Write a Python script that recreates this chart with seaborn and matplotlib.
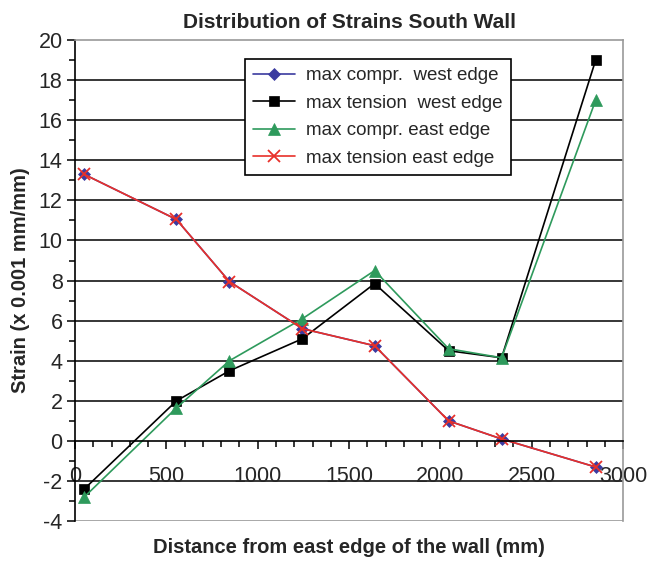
import numpy as np
import pandas as pd
import matplotlib
matplotlib.use('Agg')
import matplotlib.pyplot as plt
import seaborn as sns
from matplotlib.ticker import MultipleLocator

# positions along the wall (mm)
distance = [50, 555, 845, 1245, 1640, 2045, 2335, 2850]

# strains (x 0.001 mm/mm)
comprWest = [13.3, 11.05, 7.95, 5.6, 4.75, 1.0, 0.1, -1.3]
tensionWest = [-2.4, 2.0, 3.5, 5.1, 7.85, 4.5, 4.15, 19.0]
comprEast = [-2.8, 1.65, 4.0, 6.1, 8.5, 4.6, 4.15, 17.0]
tensionEast = [13.3, 11.05, 7.95, 5.6, 4.75, 1.0, 0.1, -1.3]

seriesNames = ['max compr.  west edge', 'max tension  west edge',
               'max compr. east edge', 'max tension east edge']

sns.set_style('white')
plt.rcParams['font.family'] = ['Liberation Sans', 'DejaVu Sans']
plt.rcParams['axes.unicode_minus'] = False

fig = plt.figure(figsize=(6.47, 5.64), dpi=100)
ax = fig.add_axes([0.116, 0.076, 0.847, 0.853])

styles = [
    dict(color='#3b3ba0', marker='D', markersize=6),
    dict(color='black', marker='s', markersize=7),
    dict(color='#2e9a5c', marker='^', markersize=8),
    dict(color='#e8302a', marker='x', markersize=8, markeredgewidth=1.3),
]
allSeries = [comprWest, tensionWest, comprEast, tensionEast]

for name, vals, st in zip(seriesNames, allSeries, styles):
    df = pd.DataFrame({'distance': distance, 'strain': vals})
    sns.lineplot(data=df, x='distance', y='strain', ax=ax, sort=False,
                 color=st['color'], marker=st['marker'], markersize=st['markersize'],
                 markeredgewidth=st.get('markeredgewidth', 0.5),
                 markeredgecolor=st['color'], linewidth=1.2, label=name)

ax.set_xlim(0, 3000)
ax.set_ylim(-4, 20)
ax.yaxis.set_major_locator(MultipleLocator(2))
ax.yaxis.set_minor_locator(MultipleLocator(1))
ax.xaxis.set_major_locator(MultipleLocator(500))
ax.xaxis.set_minor_locator(MultipleLocator(100))

# horizontal grid lines
for yv in np.arange(-2, 20, 2):
    if yv != 0:
        ax.axhline(yv, color='black', linewidth=1.1, zorder=0)
ax.axhline(-4, color='#999999', linewidth=1.2, zorder=0)

ax.spines['bottom'].set_position(('data', 0))
ax.spines['bottom'].set_color('black')
ax.spines['bottom'].set_linewidth(1.2)
ax.spines['left'].set_color('black')
ax.spines['left'].set_linewidth(1.2)
ax.spines['top'].set_color('#999999')
ax.spines['right'].set_color('#999999')
ax.spines['top'].set_linewidth(1.2)
ax.spines['right'].set_linewidth(1.2)

ax.tick_params(axis='both', which='major', direction='out', length=6, width=1.1,
               labelsize=15.5, color='black')
ax.tick_params(axis='both', which='minor', direction='out', length=4, width=1.1,
               color='black')
ax.tick_params(axis='x', which='major', pad=12)
ax.tick_params(axis='y', which='major', pad=3)
ax.tick_params(bottom=True, left=True, which='both')

ax.set_xlabel('Distance from east edge of the wall (mm)', fontsize=14.5,
              fontweight='bold')
ax.xaxis.set_label_coords(0.5, -0.035)
ax.set_ylabel('Strain (x 0.001 mm/mm)', fontsize=14.5, fontweight='bold', labelpad=6)
ax.set_title('Distribution of Strains South Wall', fontsize=15, fontweight='bold', pad=9)

leg = ax.legend(loc='upper left', bbox_to_anchor=(0.31, 0.961), fontsize=13.5,
                frameon=True, fancybox=False, edgecolor='black', framealpha=1,
                borderaxespad=0, borderpad=0.45, labelspacing=0.55, handlelength=2.2,
                handletextpad=0.6)
leg.get_frame().set_linewidth(1.2)

fig.savefig('out.png', dpi=100)
